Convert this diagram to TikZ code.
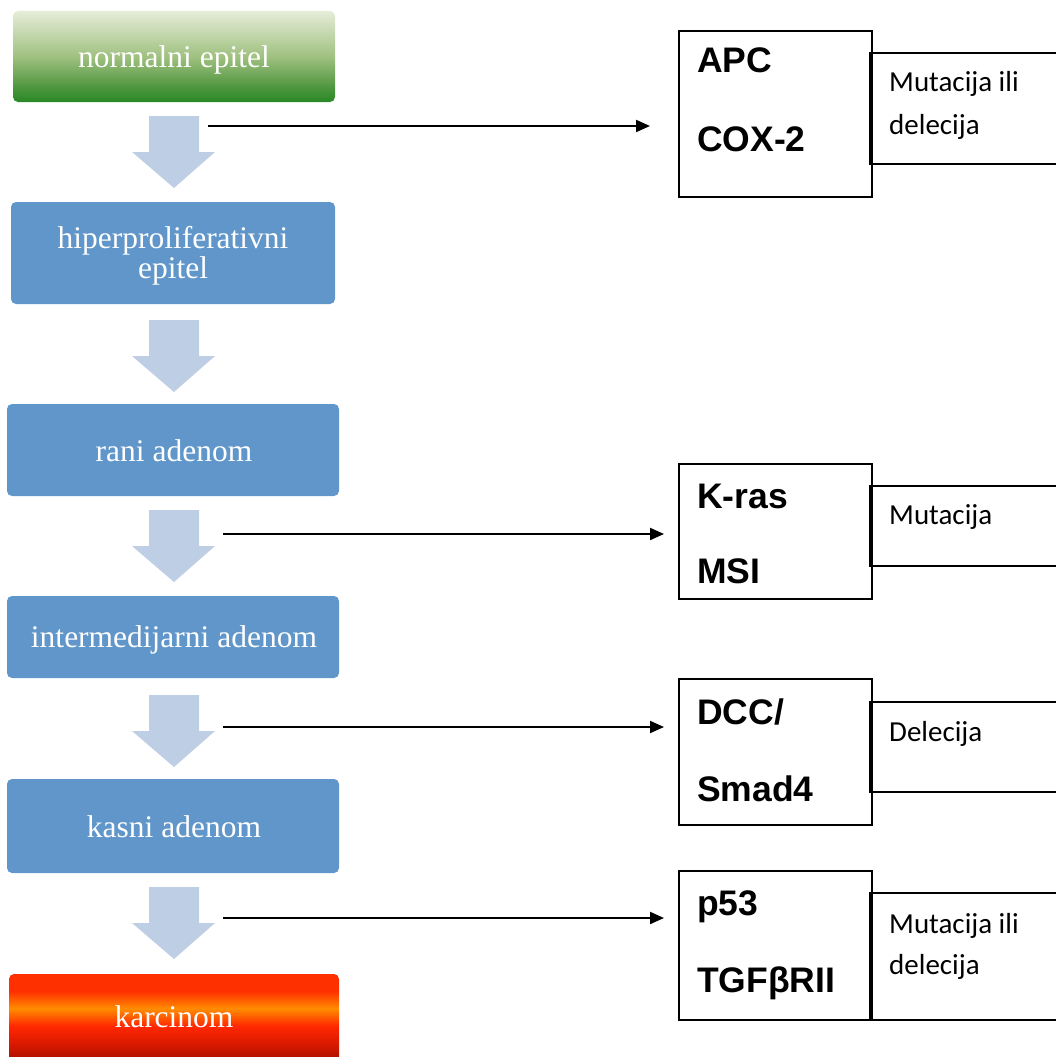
\documentclass[tikz,border=0pt]{standalone}
\usepackage{fontspec}
\setmainfont{Liberation Serif}
\newfontfamily\genefont{Liberation Sans}
\newfontfamily\notefont{Carlito}
\usetikzlibrary{arrows.meta}
\definecolor{stageblue}{RGB}{96,150,201}
\definecolor{downfill}{RGB}{190,206,228}
\definecolor{gtop}{RGB}{229,237,217}
\definecolor{gmid}{RGB}{160,193,128}
\definecolor{gdark}{RGB}{78,150,62}
\definecolor{gbot}{RGB}{40,136,38}
\definecolor{rtop}{RGB}{255,48,0}
\definecolor{rorange}{RGB}{255,140,0}
\definecolor{rred}{RGB}{255,40,0}
\definecolor{rmid}{RGB}{215,24,0}
\definecolor{rbot}{RGB}{140,14,0}
\pgfdeclareverticalshading{greensh}{100bp}{color(0bp)=(gbot); color(25bp)=(gbot); color(33bp)=(gdark); color(50bp)=(gmid); color(75bp)=(gtop); color(100bp)=(gtop)}
\pgfdeclareverticalshading{redsh}{100bp}{color(0bp)=(rbot); color(25bp)=(rbot); color(38bp)=(rmid); color(48bp)=(rred); color(57bp)=(rorange); color(66bp)=(rtop); color(75bp)=(rtop); color(100bp)=(rtop)}
\tikzset{
  stage/.style={rounded corners=5pt, draw=none},
  stagetext/.style={text=white, font=\fontsize{31.5}{30}\selectfont, inner sep=0pt},
  downarrow/.style={fill=downfill, draw=none},
  genebox/.style={draw=black, line width=1.8pt, fill=white, inner sep=0pt, anchor=north west},
  sidebox/.style={draw=black, line width=1.8pt},
  genetext/.style={font=\genefont\bfseries\fontsize{35.5}{34}\selectfont, anchor=base west, inner sep=0pt},
  notetext/.style={font=\notefont\fontsize{29}{30}\selectfont, anchor=base west, inner sep=0pt},
  link/.style={draw=black, line width=2pt, -{Triangle[length=14pt,width=12pt]}}
}
\begin{document}
\begin{tikzpicture}[x=1pt,y=-1pt]
\useasboundingbox (0,0) rectangle (1055,1057);
% stage boxes
\path[stage, shading=greensh] (13,11) rectangle (335,102);
\fill[stage, stageblue] (11,202) rectangle (335,304);
\fill[stage, stageblue] (7,404) rectangle (339,496);
\fill[stage, stageblue] (7,596) rectangle (339,678);
\fill[stage, stageblue] (7,779) rectangle (339,873);
\path[stage, shading=redsh] (9,974) rectangle (339,1070);
% stage texts
\node[stagetext, anchor=base] (s1) at (174,67) {normalni epitel};
\node[stagetext, align=center] (s2) at (173,256) {hiperproliferativni\\epitel};
\node[stagetext, anchor=base] (s3) at (174,461) {rani adenom};
\node[stagetext, anchor=base] (s4) at (174,647) {intermedijarni adenom};
\node[stagetext, anchor=base] (s5) at (174,837) {kasni adenom};
\node[stagetext, anchor=base] (s6) at (174,1027) {karcinom};
% block down arrows
\foreach \t in {116,320,510,695,887}{
  \fill[downarrow] (149,\t) -- (199,\t) -- (199,\t+36) -- (215,\t+36) -- (174,\t+72) -- (132,\t+36) -- (149,\t+36) -- cycle;
}
% gene boxes
\node[genebox, minimum width=193pt, minimum height=166pt] (g1) at (678,30) {};
\node[genebox, minimum width=193pt, minimum height=135pt] (g2) at (678,463) {};
\node[genebox, minimum width=193pt, minimum height=146pt] (g3) at (678,678) {};
\node[genebox, minimum width=193pt, minimum height=149pt] (g4) at (678,870) {};
% side boxes (open to the right edge)
\draw[sidebox] (1058,53) -- (870,53) -- (870,164) -- (1058,164);
\draw[sidebox] (1058,486) -- (870,486) -- (870,566) -- (1058,566);
\draw[sidebox] (1058,702) -- (870,702) -- (870,792) -- (1058,792);
\draw[sidebox] (1058,893) -- (870,893) -- (870,1020) -- (1058,1020);
% gene texts
\node[genetext] (t1a) at (697,73) {APC};
\node[genetext] (t1b) at (697,151) {COX-2};
\node[genetext] (t2a) at (697,508) {K-ras};
\node[genetext] (t2b) at (697,583) {MSI};
\node[genetext] (t3a) at (697,724) {DCC/};
\node[genetext] (t3b) at (697,801) {Smad4};
\node[genetext] (t4a) at (697,915) {p53};
\node[genetext] (t4b) at (697,992) {TGFβRII};
% note texts
\node[notetext] (n1a) at (889,92) {Mutacija ili};
\node[notetext] (n1b) at (889,134) {delecija};
\node[notetext] (n2) at (889,524) {Mutacija};
\node[notetext] (n3) at (889,741) {Delecija};
\node[notetext] (n4a) at (889,933) {Mutacija ili};
\node[notetext] (n4b) at (889,974) {delecija};
% connectors
\coordinate (c1s) at (208,126); \coordinate (c1e) at (650,126);
\coordinate (c2s) at (223,534); \coordinate (c2e) at (664,534);
\coordinate (c3s) at (223,727); \coordinate (c3e) at (664,727);
\coordinate (c4s) at (223,918); \coordinate (c4e) at (664,918);
\draw[link] (c1s) -- (c1e);
\draw[link] (c2s) -- (c2e);
\draw[link] (c3s) -- (c3e);
\draw[link] (c4s) -- (c4e);
\end{tikzpicture}
\end{document}
